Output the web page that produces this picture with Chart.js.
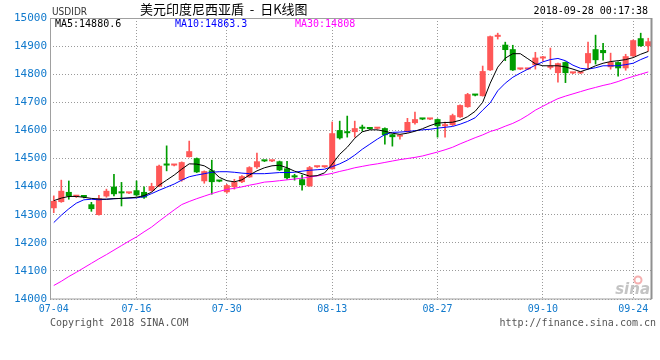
<!DOCTYPE html>
<html>
<head>
<meta charset="utf-8">
<script src="https://cdn.jsdelivr.net/npm/chart.js@4"></script>
<style>
  html, body { margin: 0; padding: 0; background: #fff; }
  canvas { display: block; }
</style>
</head>
<body>
<canvas id="kline" width="660" height="360"></canvas>
<script>
/* =========================
   DATA
========================= */
const openVals  = [14323,14345,14381,14364,14366,14337,14299,14365,14400,14378,
                   14376,14387,14381,14385,14400,14477,14475,14423,14505,14501,
                   14419,14458,14420,14380,14398,14416,14433,14469,14492,14490,
                   14490,14465,14435,14426,14401,14469,14469,14462,14601,14597,
                   14594,14608,14607,14606,14608,14586,14578,14594,14626,14641,
                   14639,14640,14615,14619,14647,14683,14726,14722,14814,14933,
                   14905,14889,14817,14817,14832,14856,14823,14804,14843,14803,
                   14803,14839,14889,14886,14825,14843,14821,14864,14928,14900];
const highVals  = [14367,14423,14420,14367,14368,14344,14369,14391,14444,14415,
                   14379,14420,14399,14412,14477,14545,14478,14488,14562,14502,
                   14456,14494,14421,14408,14426,14439,14471,14519,14493,14493,
                   14491,14490,14444,14441,14472,14472,14472,14630,14633,14651,
                   14633,14619,14608,14609,14609,14587,14581,14643,14665,14642,
                   14642,14641,14630,14658,14691,14732,14727,14829,14936,14946,
                   14914,14903,14820,14820,14878,14864,14893,14840,14844,14806,
                   14806,14914,14939,14910,14875,14844,14871,14922,14946,14928];
const lowVals   = [14307,14344,14355,14361,14360,14312,14298,14362,14367,14331,
                   14375,14366,14358,14383,14400,14456,14474,14419,14505,14450,
                   14412,14373,14417,14377,14391,14414,14433,14465,14489,14489,
                   14457,14426,14423,14387,14401,14468,14468,14462,14569,14576,
                   14576,14597,14604,14605,14551,14544,14569,14593,14622,14638,
                   14638,14576,14576,14617,14646,14682,14723,14722,14813,14925,
                   14848,14813,14816,14816,14818,14846,14818,14772,14770,14802,
                   14802,14821,14836,14850,14818,14793,14814,14863,14899,14882];
const closeVals = [14349,14385,14365,14365,14363,14320,14358,14385,14373,14376,
                   14378,14369,14361,14402,14474,14475,14477,14487,14526,14451,
                   14455,14416,14418,14405,14416,14437,14469,14490,14490,14492,
                   14458,14430,14433,14405,14469,14471,14471,14590,14572,14590,
                   14608,14606,14605,14608,14583,14576,14580,14630,14640,14639,
                   14641,14615,14619,14654,14690,14729,14724,14811,14935,14935,
                   14886,14814,14819,14819,14859,14858,14825,14839,14804,14805,
                   14805,14875,14850,14875,14843,14821,14864,14921,14900,14917];

const ma5Vals  = [14350,14359,14365,14365,14362,14358,14356,14355,14357,14358,
                  14360,14362,14368,14380,14405,14423,14441,14462,14481,14480,
                  14474,14458,14433,14421,14417,14424,14441,14456,14467,14474,
                  14476,14467,14455,14446,14437,14439,14449,14480,14515,14540,
                  14572,14595,14602,14602,14597,14590,14586,14590,14597,14606,
                  14617,14626,14628,14629,14636,14649,14668,14700,14768,14825,
                  14857,14873,14873,14855,14837,14830,14830,14830,14826,14818,
                  14809,14818,14830,14839,14845,14848,14852,14859,14871,14881];
const ma10Vals = [14272,14298,14321,14341,14353,14355,14353,14355,14357,14358,
                  14359,14360,14364,14375,14387,14398,14409,14423,14435,14441,
                  14446,14451,14453,14453,14451,14448,14446,14446,14446,14448,
                  14450,14450,14451,14455,14458,14460,14462,14471,14481,14494,
                  14512,14533,14551,14569,14585,14593,14594,14596,14599,14602,
                  14604,14608,14611,14614,14622,14632,14645,14672,14698,14741,
                  14768,14789,14804,14818,14832,14844,14852,14856,14848,14832,
                  14821,14818,14823,14830,14830,14830,14834,14839,14852,14863];
const ma30Vals = [14048,14063,14080,14095,14111,14127,14143,14158,14174,14190,
                  14206,14221,14239,14256,14277,14297,14317,14336,14347,14357,
                  14366,14375,14383,14390,14394,14399,14405,14410,14416,14418,
                  14421,14424,14427,14430,14434,14438,14442,14447,14454,14460,
                  14467,14472,14477,14481,14486,14491,14496,14500,14504,14509,
                  14516,14523,14531,14540,14552,14563,14574,14584,14596,14604,
                  14615,14625,14638,14654,14672,14686,14700,14713,14722,14730,
                  14738,14746,14753,14760,14766,14774,14784,14792,14800,14808];

// x-axis tick labels and the candle they sit on
const tickIdx  = [0, 11, 23, 37, 51, 65, 77];
const tickText = ["07-04", "07-16", "07-30", "08-13", "08-27", "09-10", "09-24"];

// y-axis
const yMin = 14000, yMax = 15000, yStep = 100;

// legend row
const maNames = ["MA5", "MA10", "MA30"];
const maLast  = ["14880.6", "14863.3", "14808"];

/* =========================
   STYLE
========================= */
const RED = "#ff5757";
const GREEN = "#009d00";
const AXIS_BLUE = "#1079cc";
const GRID = "#9a9a9a";
const MONO = '"DejaVu Sans Mono", "Liberation Mono", monospace';

/* =========================
   BUILD DATASETS
========================= */
const categories = openVals.map((_, i) => String(i));
const bodies = openVals.map((o, i) => [o, closeVals[i]]);
const wicks = lowVals.map((l, i) => [l, highVals[i]]);
const candleColors = openVals.map((o, i) => closeVals[i] >= o ? RED : GREEN);

/* =========================
   DECOR PLUGIN (frame + texts)
========================= */
const decor = {
    id: "decor",
    beforeDraw(chart) {
        const ctx = chart.ctx;
        ctx.save();
        ctx.fillStyle = "#fff";
        ctx.fillRect(0, 0, chart.width, chart.height);
        ctx.restore();
    },
    afterDraw(chart) {
        const { ctx, chartArea: a } = chart;
        ctx.save();

        // frame
        ctx.strokeStyle = "#a0a0a0";
        ctx.lineWidth = 1;
        ctx.strokeRect(a.left + 0.5, a.top + 0.5, a.right - a.left - 1, a.bottom - a.top - 0.5);
        ctx.beginPath();
        ctx.moveTo(a.right - 0.5, a.top);
        ctx.lineTo(a.right - 0.5, a.bottom);
        ctx.strokeStyle = "#909090";
        ctx.lineWidth = 2;
        ctx.stroke();

        // header
        ctx.textBaseline = "middle";
        ctx.fillStyle = "#333";
        ctx.font = '10px "DejaVu Sans Condensed", "Liberation Sans Narrow", sans-serif';
        ctx.textAlign = "left";
        ctx.fillText("USDIDR", 52, 12);

        ctx.fillStyle = "#000";
        ctx.font = '13px "Noto Sans CJK SC", sans-serif';
        ctx.fillText("美元印度尼西亚盾  -  日K线图", 140, 9);

        ctx.font = "10px " + MONO;
        ctx.textAlign = "right";
        ctx.fillText("2018-09-28 00:17:38", 648, 11);

        // MA legend row
        const legendX = [55, 175, 295];
        const legendC = ["#000000", "#0000ff", "#ff00ff"];
        ctx.textAlign = "left";
        maNames.forEach((n, i) => {
            ctx.fillStyle = legendC[i];
            ctx.fillText(n + ":" + maLast[i], legendX[i], 24.5);
        });

        // footer
        ctx.fillStyle = "#555";
        ctx.fillText("Copyright 2018 SINA.COM", 50, 323);
        ctx.textAlign = "right";
        ctx.fillText("http://finance.sina.com.cn", 656, 323);

        // sina watermark
        ctx.fillStyle = "#c4c4c4";
        ctx.font = 'italic bold 15px "DejaVu Sans", sans-serif';
        ctx.fillText("sina", 650, 290);
        ctx.strokeStyle = "#f5b0b0";
        ctx.lineWidth = 2;
        ctx.beginPath();
        ctx.arc(638, 280, 3.5, 0, Math.PI * 2);
        ctx.stroke();

        ctx.restore();
    }
};

/* =========================
   CHART
========================= */
new Chart(document.getElementById("kline"), {
    type: "bar",
    data: {
        labels: categories,
        datasets: [
            {
                type: "line", label: "MA5", data: ma5Vals,
                borderColor: "#000000", borderWidth: 1,
                pointRadius: 0, tension: 0, order: 0
            },
            {
                type: "line", label: "MA10", data: ma10Vals,
                borderColor: "#0000ff", borderWidth: 1,
                pointRadius: 0, tension: 0, order: 0
            },
            {
                type: "line", label: "MA30", data: ma30Vals,
                borderColor: "#ff00ff", borderWidth: 1,
                pointRadius: 0, tension: 0, order: 0
            },
            {
                label: "wick", data: wicks,
                backgroundColor: candleColors,
                barThickness: 1, grouped: false, order: 2
            },
            {
                label: "body", data: bodies,
                backgroundColor: candleColors,
                barPercentage: 0.8, categoryPercentage: 1,
                minBarLength: 2, grouped: false, order: 1
            }
        ]
    },
    options: {
        responsive: false,
        animation: false,
        devicePixelRatio: 1,
        layout: { padding: { left: 0, right: 8, top: 18, bottom: 0 } },
        plugins: {
            legend: { display: false },
            tooltip: { enabled: false }
        },
        scales: {
            x: {
                offset: true,
                grid: {
                    offset: false,
                    drawTicks: false,
                    borderDash: [1, 2],
                    color: (c) => (c.index > 0 && tickIdx.includes(c.index)) ? GRID : "rgba(0,0,0,0)"
                },
                border: { display: false, dash: [1, 2] },
                ticks: {
                    autoSkip: false,
                    maxRotation: 0,
                    padding: 4,
                    color: AXIS_BLUE,
                    font: { family: MONO, size: 10 },
                    callback: (v, i) => {
                        const k = tickIdx.indexOf(i);
                        return k >= 0 ? tickText[k] : "";
                    }
                },
                afterFit: (s) => { s.height = 61; }
            },
            y: {
                min: yMin,
                max: yMax,
                grid: { drawTicks: false, color: GRID, borderDash: [1, 2] },
                border: { display: false, dash: [1, 2] },
                ticks: {
                    stepSize: yStep,
                    padding: 3,
                    color: AXIS_BLUE,
                    font: { family: MONO, size: 11 },
                    callback: (v) => String(v)
                },
                afterFit: (s) => { s.width = 50; }
            }
        }
    },
    plugins: [decor]
});
</script>
</body>
</html>
